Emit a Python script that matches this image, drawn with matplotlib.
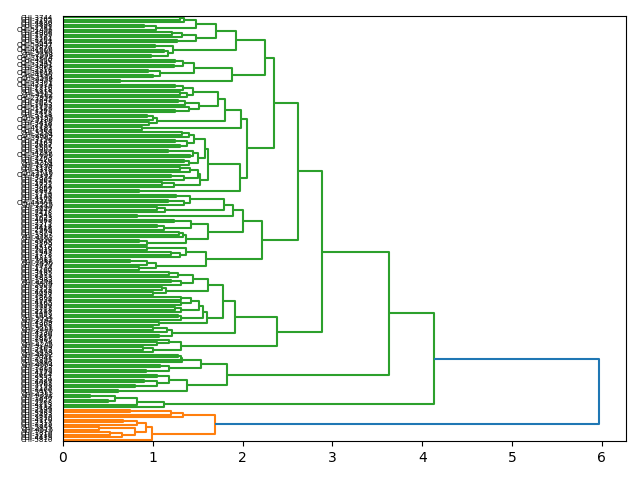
import matplotlib
matplotlib.use('Agg')
import matplotlib.pyplot as plt
from matplotlib.collections import LineCollection

# ---------------- data: sub-trees in compact Newick-like form ----------------
# '*' is a leaf, "(a,b)h" is a merge of a and b at height h (listed top to bottom)
def join(a, b, h):
    return "(%s,%s)%.2f" % (a, b, h)

# cluster P (root 2.25)
P_a1a = "(((*,*)1.30,*)1.35,((*,*)0.90,*)1.04)1.48"
P_a1b = "(((*,*)1.21,*)1.33,(*,*)1.27)1.48"
P_a2 = "((*,*)1.02,((*,*)1.12,(*,*)0.98)1.17)1.22"
P_b1a = "((*,*)1.25,(*,*)1.24)1.34"
P_b1b = "((*,*)0.95,(*,*)1.00)1.08"
P_b2 = "(*,*)0.63"
# cluster Q (root 2.05)
Q_1a1 = "((((*,*)1.25,*)1.34,((*,*)1.30,*)1.38)1.45,(((*,*)1.28,*)1.36,(*,(*,*)1.25)1.40)1.51)1.73"
Q_1a2 = "(((*,*)0.94,*)1.00,(*,*)0.96)1.05"
Q_1b = "(*,*)0.88"
Q_2a1 = "((((*,*)1.33,*)1.40,((*,*)1.25,(*,*)1.30)1.38)1.46,(((*,*)1.17,(*,*)1.41)1.45,((*,*)1.35,*)1.40)1.50)1.58"
Q_2a2 = "((((*,*)1.30,*)1.41,((*,*)1.20,*)1.35)1.50,((*,*)1.10,*)1.24)1.53"
Q_2b = "(*,*)0.85"
# cluster R (root 2.22)
R_1a1 = "(((*,*)1.26,((*,*)1.17,*)1.35)1.41,((*,*)1.05,*)1.14)1.79"
R_1a2 = "(*,*)0.82"
R_1b1 = "((*,*)1.24,((*,*)1.05,*)1.13)1.43"
R_1b2 = "(((*,*)1.29,*)1.34,((*,*)0.85,*)0.94)1.37"
R_2a = "((*,*)0.93,((*,*)1.20,*)1.30)1.37"
R_2b = "(((*,*)0.75,*)0.93,(*,*)0.85)1.04"
# cluster S (root 2.38)
S_1a1 = "((((*,*)1.18,*)1.28,((*,*)1.20,*)1.31)1.45,((*,*)1.10,(*,*)1.00)1.15)1.62"
S_1a2 = "(((((*,*)1.31,(*,*)1.31)1.43,((*,*)1.25,*)1.31)1.52,((*,*)1.28,*)1.31)1.56,(*,*)1.07)1.60"
S_1b = "(((*,*)1.00,*)1.16,(*,*)1.07)1.21"
S_2 = "((*,(*,*)1.05)1.18,((*,*)0.89,*)1.00)1.31"
# cluster T (root 1.83)
T_1a = "(((*,*)1.28,*)1.31,*)1.33"
T_1b = "((*,*)1.08,(*,*)0.92)1.18"
T_2a = "((*,*)1.05,((*,*)0.90,(*,*)0.80)1.05)1.18"
T_2b = "(*,*)0.61"
# cluster U (root 1.13)
U_all = "((((*,*)0.30,(*,*)0.50)0.58,*)0.82,*)1.13"
# orange cluster O (root 1.69)
O_1 = "(((*,*)0.75,*)1.20,*)1.34"
O_2 = "((((*,*)0.67,*)0.82,((*,*)0.40,((*,*)0.52,*)0.66)0.80)0.92,*)0.99"

# upper-level merge heights
P_heights = [1.70, 1.93, 1.46, 1.88, 2.25]
Q_heights = [1.80, 1.98, 1.62, 1.97, 2.05]
R_heights = [1.89, 1.62, 2.00, 1.59, 2.22]
S_heights = [1.78, 1.91, 2.38]
T_heights = [1.54, 1.38, 1.83]
O_height = 1.69
top_heights = [2.35, 2.62, 2.88, 3.63, 4.13, 5.97]

# leaf labels, top to bottom
label_ids = [
    3744, 3265, 4430, 3898, 2781, 51456, 4906, 1995, 2161, 3264,
    3644, 53457, 2876, 41566, 3090, 2558, 31874, 4566, 3945, 31461,
    3062, 2318, 34816, 4196, 2534, 30458, 3301, 42314, 2716, 1818,
    3415, 4262, 21956, 3847, 3025, 1693, 51123, 1565, 2471, 3358,
    4155, 23186, 3418, 2936, 41181, 1563, 3258, 2404, 39962, 3156,
    4163, 2687, 3505, 1907, 4299, 31956, 2763, 3420, 4218, 2294,
    3126, 4378, 2515, 43165, 3334, 2961, 1855, 4721, 3066, 2847,
    3754, 1716, 4106, 3574, 44466, 2215, 3690, 3447, 2418, 3541,
    1623, 4083, 2375, 3211, 4418, 2965, 1879, 3307, 4152, 2650,
    3865, 2179, 4516, 3029, 1947, 2778, 4311, 3682, 2456, 3970,
    1734, 4260, 3185, 2571, 3833, 1982, 4474, 2609, 3352, 2123,
    4028, 3477, 1866, 2934, 4165, 3590, 2287, 3718, 4497, 1659,
    3054, 2742, 4369, 1908, 3611, 2495, 4130, 3286, 2817, 3905,
    1776, 4245, 3169, 2563, 3838, 4402, 2041, 3395, 2886, 4554,
    3213, 1995, 4179, 2664, 3531, 2320, 4087, 3768, 2133, 3466,
    2911, 4352, 1840, 3627, 2208, 4213, 3134, 2599, 3983, 2433,
    3810, 4170, 2317, 3379, 2895, 4515, 1810, 3216, 4439, 5810,
]
labels = ["CHI-%d" % n for n in label_ids]

# ---------------- assemble the tree ----------------
P = join(join(join(P_a1a, P_a1b, P_heights[0]), P_a2, P_heights[1]),
         join(join(P_b1a, P_b1b, P_heights[2]), P_b2, P_heights[3]), P_heights[4])
Q = join(join(join(Q_1a1, Q_1a2, Q_heights[0]), Q_1b, Q_heights[1]),
         join(join(Q_2a1, Q_2a2, Q_heights[2]), Q_2b, Q_heights[3]), Q_heights[4])
R = join(join(join(R_1a1, R_1a2, R_heights[0]), join(R_1b1, R_1b2, R_heights[1]), R_heights[2]),
         join(R_2a, R_2b, R_heights[3]), R_heights[4])
S = join(join(join(S_1a1, S_1a2, S_heights[0]), S_1b, S_heights[1]), S_2, S_heights[2])
T = join(join(T_1a, T_1b, T_heights[0]), join(T_2a, T_2b, T_heights[1]), T_heights[2])
O = join(O_1, O_2, O_height)

tree_str = P
for sub, h in zip([Q, R, S, T, U_all, O], top_heights):
    tree_str = join(tree_str, sub, h)


def parse(s):
    pos = 0

    def node():
        nonlocal pos
        if s[pos] == '*':
            pos += 1
            return 'leaf'
        pos += 1
        left = node()
        pos += 1  # ','
        right = node()
        pos += 1  # ')'
        start = pos
        while pos < len(s) and (s[pos].isdigit() or s[pos] == '.'):
            pos += 1
        return (left, right, float(s[start:pos]))
    return node()


tree = parse(tree_str)


def count(t):
    return 1 if t == 'leaf' else count(t[0]) + count(t[1])


N = count(tree)
max_h = tree[2]
threshold = 0.7 * max_h

links = []  # (xs, ys, cluster_id or None)
leaf_counter = [0]
cluster_roots = []


def layout(t, cid):
    if t == 'leaf':
        k = leaf_counter[0]
        leaf_counter[0] += 1
        return 10 * (N - 1 - k) + 5, 0.0
    h = t[2]
    if h < threshold and cid is None:
        cluster_roots.append(len(cluster_roots))
        cid = cluster_roots[-1]
    y1, h1 = layout(t[0], cid)
    y2, h2 = layout(t[1], cid)
    links.append(([h1, h, h, h2], [y1, y1, y2, y2], cid if h < threshold else None))
    return (y1 + y2) / 2.0, h


layout(tree, None)
ncl = len(cluster_roots)
# scipy colours clusters from the bottom leaf upward: C1, C2, ...
palette = ['C%d' % (i + 1) for i in range(10)]
color_of = {cid: palette[ncl - 1 - cid] for cid in range(ncl)}

fig = plt.figure(figsize=(6.4, 4.8), dpi=100)
ax = fig.add_axes([0.0984, 0.0813, 0.8797, 0.8854])

groups = {}
for xs, ys, cid in links:
    col = 'C0' if cid is None else color_of[cid]
    groups.setdefault(col, []).append(list(zip(xs, ys)))
for col, segs in groups.items():
    if col != 'C0':
        ax.add_collection(LineCollection(segs, colors=(col,), linewidths=1.5))
if 'C0' in groups:
    ax.add_collection(LineCollection(groups['C0'], colors=('C0',), linewidths=1.5))

ax.set_xlim(0, max_h * 1.05)
ax.set_ylim(0, 10 * N)
ticks = [10 * (N - 1 - k) + 5 for k in range(N)]
ax.set_yticks(ticks)
ax.set_yticklabels(labels, size=5)
for line in ax.get_yticklines():
    line.set_visible(False)

fig.savefig('out.png', dpi=100)
